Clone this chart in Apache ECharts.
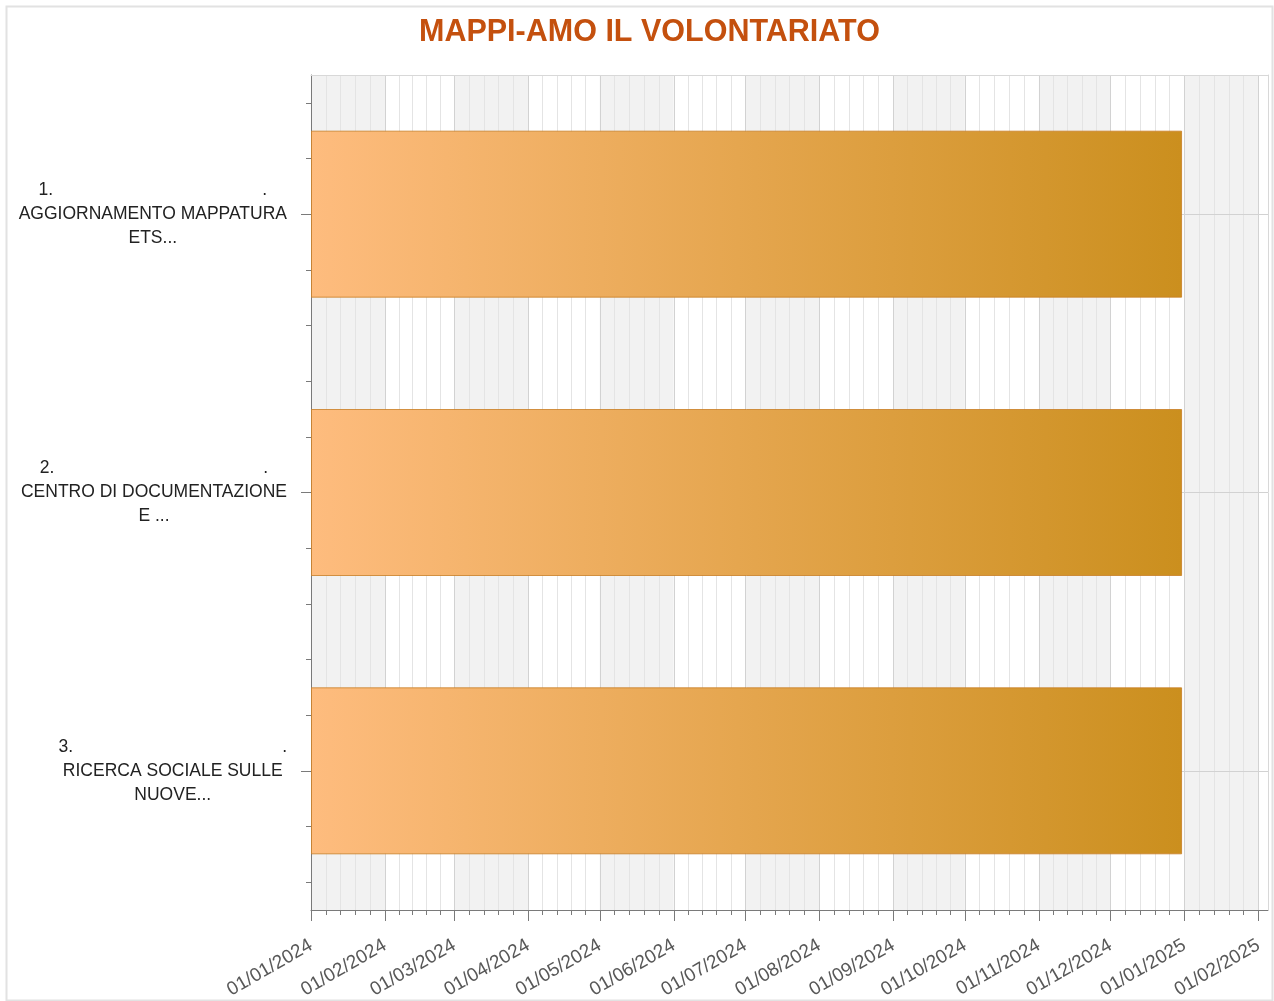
<!DOCTYPE html>
<html>
<head>
<meta charset="utf-8">
<script src="https://cdn.jsdelivr.net/npm/echarts@6/dist/echarts.min.js"></script>
<style>
html,body{margin:0;padding:0;background:#fff;}
#chart{width:1274px;height:1001px;}
</style>
</head>
<body>
<div id="chart"></div>
<script>
// ---- data ----
const chartTitle = 'MAPPI-AMO IL VOLONTARIATO';
const taskNumbers = ['1.', '2.', '3.'];
const taskNames = [
  'AGGIORNAMENTO MAPPATURA\nETS...',
  'CENTRO DI DOCUMENTAZIONE\nE ...',
  'RICERCA SOCIALE SULLE\nNUOVE...'
];
const taskStart = ['2024-01-01', '2024-01-01', '2024-01-01'];
const taskEnd = ['2024-12-31', '2024-12-31', '2024-12-31'];
const axisStart = '2024-01-01';
const axisEnd = '2025-02-05';
const monthTickLabels = [
  '01/01/2024', '01/02/2024', '01/03/2024', '01/04/2024', '01/05/2024', '01/06/2024',
  '01/07/2024', '01/08/2024', '01/09/2024', '01/10/2024', '01/11/2024', '01/12/2024',
  '01/01/2025', '01/02/2025'
];

// ---- helpers ----
function isoToMs(s) { const p = s.split('-').map(Number); return Date.UTC(p[0], p[1] - 1, p[2]); }
function dmyToMs(s) { const p = s.split('/').map(Number); return Date.UTC(p[2], p[1] - 1, p[0]); }
function pad(n) { return (n < 10 ? '0' : '') + n; }
function fmtDate(v) { const d = new Date(v); return pad(d.getUTCDate()) + '/' + pad(d.getUTCMonth() + 1) + '/' + d.getUTCFullYear(); }

const monthTicks = monthTickLabels.map(dmyToMs);
const minorTicks = [];
for (let i = 1; i < monthTicks.length; i++) {
  const a = monthTicks[i - 1], b = monthTicks[i];
  for (let k = 1; k < 5; k++) minorTicks.push(a + (b - a) * k / 5);
}
const categories = taskNumbers.map((n, i) => n + ' '.repeat(43) + '.\n' + taskNames[i]);
const yMinor = [], yCenter = [];
for (let i = 0; i < categories.length; i++) {
  yMinor.push(i + 0.1, i + 0.3, i + 0.7, i + 0.9);
  yCenter.push(i + 0.5);
}
const startMs = taskStart.map(isoToMs);
const durMs = taskEnd.map((e, i) => isoToMs(e) - startMs[i]);

const FONT = 'Liberation Sans';
const chart = echarts.init(document.getElementById('chart'), null, { renderer: 'canvas' });
chart.setOption({
  animation: false,
  backgroundColor: '#ffffff',
  title: {
    text: chartTitle,
    left: 414,
    top: 12,
    textStyle: { color: '#C4500E', fontSize: 30.5, fontWeight: 'bold', fontFamily: FONT }
  },
  graphic: [{
    type: 'rect', left: 4, top: 4, z: -1,
    shape: { width: 1266, height: 994 },
    style: { fill: 'none', stroke: '#e2e2e2', lineWidth: 2 }
  }],
  grid: { left: 311, right: 6, top: 75, bottom: 91, outerBoundsMode: 'none', containLabel: false },
  xAxis: [
    {
      type: 'value', min: isoToMs(axisStart), max: isoToMs(axisEnd), position: 'bottom', z: 1,
      axisLine: { show: true, onZero: false, lineStyle: { color: '#7a7a7a', width: 1 } },
      axisTick: { show: true, customValues: monthTicks, length: 11, lineStyle: { color: '#7a7a7a' } },
      axisLabel: {
        show: true, customValues: monthTicks, rotate: 30, margin: 34,
        formatter: fmtDate, color: '#585858', fontSize: 19, fontFamily: FONT
      },
      splitLine: { show: true, lineStyle: { color: '#d2d2d2', width: 1 } },
      splitArea: { show: true, areaStyle: { color: ['#f2f2f2', '#ffffff'] } }
    },
    {
      type: 'value', min: isoToMs(axisStart), max: isoToMs(axisEnd), position: 'bottom', z: 1,
      axisLine: { show: false, onZero: false },
      axisTick: { show: true, customValues: minorTicks, length: 5, lineStyle: { color: '#7a7a7a' } },
      axisLabel: { show: false },
      splitLine: { show: true, lineStyle: { color: '#e4e4e4', width: 1 } },
      splitArea: { show: false }
    },
    {
      type: 'value', min: isoToMs(axisStart), max: isoToMs(axisEnd), position: 'top', z: 3,
      axisLine: { show: true, onZero: false, lineStyle: { color: '#d8d8d8', width: 1 } },
      axisTick: { show: false }, axisLabel: { show: false },
      splitLine: { show: false }, splitArea: { show: false }
    }
  ],
  yAxis: [
    {
      type: 'category', data: categories, inverse: true, position: 'left', z: 3,
      axisLine: { show: true, onZero: false, lineStyle: { color: '#7a7a7a', width: 1 } },
      axisTick: { show: true, alignWithLabel: true, length: 10, lineStyle: { color: '#7a7a7a' } },
      axisLabel: {
        show: true, margin: 24, align: 'right',
        formatter: function (v) { return v.split('\n').map(l => '{c|' + l + '}').join('\n'); },
        rich: { c: { align: 'center', fontSize: 17.5, lineHeight: 24, color: '#222222', fontFamily: FONT } }
      },
      splitLine: { show: false }
    },
    {
      type: 'value', min: 0, max: categories.length, position: 'left', z: 3,
      axisLine: { show: false, onZero: false },
      axisTick: { show: true, customValues: yMinor, length: 5, lineStyle: { color: '#7a7a7a' } },
      axisLabel: { show: false },
      splitLine: { show: false }
    },
    {
      type: 'value', min: 0, max: categories.length, position: 'right', z: 2,
      axisLine: { show: true, onZero: false, lineStyle: { color: '#d8d8d8', width: 1 } },
      axisTick: { show: false, customValues: yCenter },
      axisLabel: { show: false },
      splitLine: { show: true, lineStyle: { color: '#d2d2d2', width: 1 } }
    }
  ],
  series: [
    {
      type: 'bar', stack: 'gantt', xAxisIndex: 0, yAxisIndex: 0, z: 5,
      barWidth: '60%', silent: true,
      itemStyle: { color: 'transparent', borderColor: 'transparent' },
      data: startMs
    },
    {
      type: 'bar', stack: 'gantt', xAxisIndex: 0, yAxisIndex: 0, z: 5,
      barWidth: '60%',
      itemStyle: {
        color: new echarts.graphic.LinearGradient(0, 0, 1, 0, [
          { offset: 0, color: '#FEBC7E' },
          { offset: 1, color: '#CB8F1E' }
        ]),
        borderColor: 'rgba(200,125,35,0.8)',
        borderWidth: 1
      },
      data: durMs
    }
  ]
});
</script>
</body>
</html>
